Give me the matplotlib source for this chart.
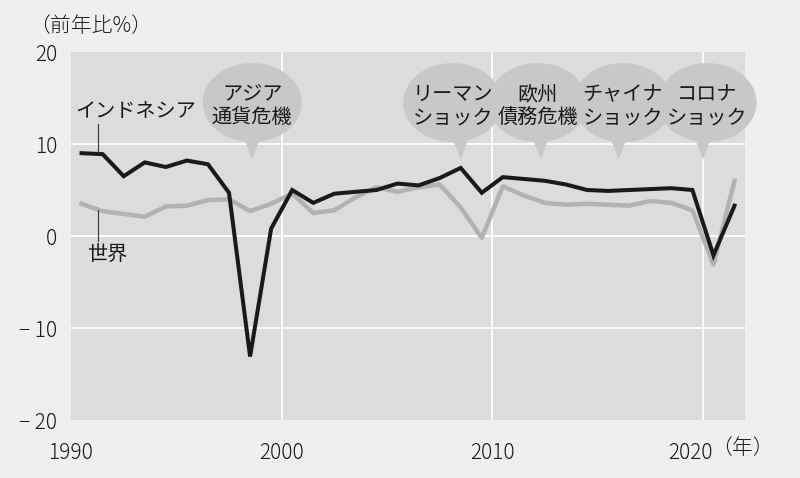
import matplotlib
matplotlib.use("Agg")
import matplotlib.pyplot as plt
from matplotlib.patches import Ellipse, Polygon
from matplotlib.transforms import ScaledTranslation

plt.rcParams['font.family'] = ['Noto Sans CJK JP', 'DejaVu Sans']

# ---- data ----
years = [1990, 1991, 1992, 1993, 1994, 1995, 1996, 1997, 1998, 1999,
         2000, 2001, 2002, 2003, 2004, 2005, 2006, 2007, 2008, 2009,
         2010, 2011, 2012, 2013, 2014, 2015, 2016, 2017, 2018, 2019,
         2020, 2021]
indonesia = [9.0, 8.9, 6.5, 8.0, 7.5, 8.2, 7.8, 4.7, -13.1, 0.8,
             5.0, 3.6, 4.6, 4.8, 5.0, 5.7, 5.5, 6.3, 7.4, 4.7,
             6.4, 6.2, 6.0, 5.6, 5.0, 4.9, 5.0, 5.1, 5.2, 5.0,
             -2.1, 3.3]
world = [3.5, 2.7, 2.4, 2.1, 3.2, 3.3, 3.9, 4.0, 2.7, 3.5,
         4.6, 2.5, 2.8, 4.2, 5.3, 4.8, 5.3, 5.6, 3.1, -0.2,
         5.4, 4.4, 3.6, 3.4, 3.5, 3.4, 3.3, 3.8, 3.6, 2.8,
         -3.1, 6.0]
yticks = [-20, -10, 0, 10, 20]
ytick_labels = ['\u2212 20', '\u2212 10', '0', '10', '20']
xticks = [1990, 2000, 2010, 2020]
xtick_labels = ['1990', '2000', '2010', '2020']
event_labels = ['アジア\n通貨危機', 'リーマン\nショック', '欧州\n債務危機',
                'チャイナ\nショック', 'コロナ\nショック']
event_years = [1998.6, 2008.5, 2012.3, 2016.0, 2020.0]

# ---- layout / style ----
fig_bg = '#efefee'
ax_bg = '#dcdcdb'
bubble_c = '#c8c8c8'
black_c = '#1a1a1a'
gray_c = '#b2b2b2'
text_c = '#1a1a1a'

fig = plt.figure(figsize=(8, 4.78), dpi=100, facecolor=fig_bg)
ax = fig.add_axes([0.0888, 0.1213, 0.8425, 0.7699])
ax.set_facecolor(ax_bg)
for s in ax.spines.values():
    s.set_visible(False)

ax.set_xlim(1990, 2022)
ax.set_ylim(-20, 20)

for y in [-10, 0, 10]:
    ax.axhline(y, color='white', lw=1.3, zorder=1)
for x in [2000, 2010, 2020]:
    ax.axvline(x, color='white', lw=1.3, zorder=1)

xs = [y + 0.5 for y in years]
ax.plot(xs, world, color=gray_c, lw=3.2, solid_joinstyle='round', zorder=3)
ax.plot(xs, indonesia, color=black_c, lw=2.9, solid_joinstyle='miter', zorder=4)

ax.set_yticks(yticks)
ax.set_yticklabels(ytick_labels)
ax.set_xticks(xticks)
ax.set_xticklabels(xtick_labels)
ax.tick_params(axis='both', length=0, labelsize=15, colors=text_c)
ax.tick_params(axis='y', pad=10)
ax.tick_params(axis='x', pad=16)
for lab in ax.get_xticklabels() + ax.get_yticklabels():
    lab.set_fontweight('light')
last = ax.get_xticklabels()[-1]
last.set_transform(last.get_transform() + ScaledTranslation(-0.12, 0, fig.dpi_scale_trans))

# bubbles
ell_w, ell_h, ell_cy = 4.7, 8.6, 14.5
centers_dx = [0.0, -0.38, -0.14, 0.2, 0.2]
for lab, ey, dx in zip(event_labels, event_years, centers_dx):
    cx = ey + dx
    e = Ellipse((cx, ell_cy), ell_w, ell_h, facecolor=bubble_c, edgecolor='none',
                zorder=5, clip_on=False)
    ax.add_patch(e)
    tri = Polygon([(ey - 0.48, 11.2), (ey + 0.48, 11.2), (ey, 8.3)], closed=True,
                  facecolor=bubble_c, edgecolor='none', zorder=5, clip_on=False)
    ax.add_patch(tri)
for lab, ey, dx in zip(event_labels, event_years, centers_dx):
    ax.text(ey + dx, 14.1, lab, ha='center', va='center', fontsize=14.5,
            color=text_c, linespacing=1.12, zorder=6, multialignment='center')

# series labels with leader lines
ax.plot([1991.3, 1991.3], [12.2, 9.1], color='#333333', lw=0.8, zorder=4)
ax.plot([1991.3, 1991.3], [2.8, -0.5], color='#333333', lw=0.8, zorder=4)
ax.text(1993.07, 13.5, 'インドネシア', ha='center', va='center', fontsize=14.5,
        color=text_c, zorder=6)
ax.text(1991.73, -2.0, '世界', ha='center', va='center', fontsize=14.5,
        color=text_c, zorder=6)

fig.text(0.036, 0.9456, '（前年比%）', ha='left', va='center', fontsize=15,
         color=text_c, fontweight='light')
fig.text(0.889, 0.062, '（年）', ha='left', va='center', fontsize=15,
         color=text_c, fontweight='light')

fig.savefig('out.png', dpi=100, facecolor=fig_bg)
